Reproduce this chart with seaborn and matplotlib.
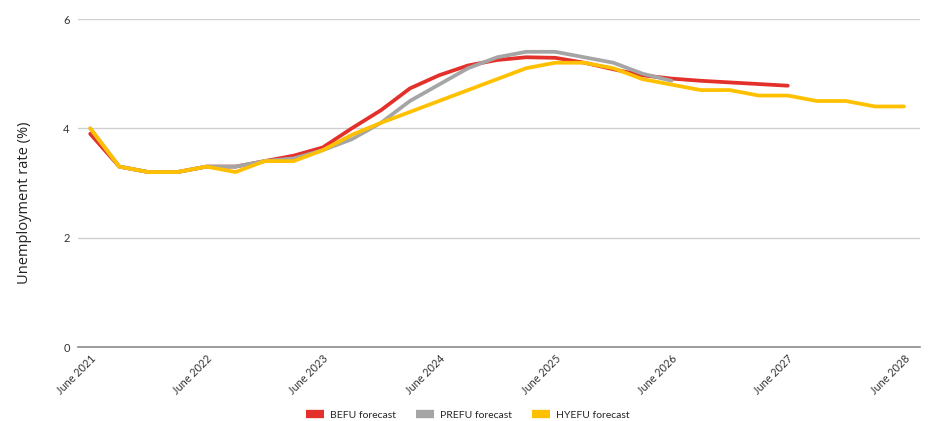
import matplotlib
matplotlib.use("Agg")
import matplotlib.pyplot as plt
import seaborn as sns
import pandas as pd
import numpy as np

# Quarterly periods from June 2021 to June 2028
quarters = pd.period_range("2021Q2", "2028Q2", freq="Q")
tick_labels = ["June 2021", "June 2022", "June 2023", "June 2024",
               "June 2025", "June 2026", "June 2027", "June 2028"]

befu = [3.9, 3.3, 3.2, 3.2, 3.3, 3.3, 3.4, 3.5, 3.65, 4.0, 4.33, 4.73,
        4.97, 5.15, 5.25, 5.3, 5.29, 5.2, 5.08, 4.97, 4.91, 4.87, 4.84,
        4.81, 4.78]
prefu = [4.0, 3.3, 3.2, 3.2, 3.3, 3.3, 3.4, 3.45, 3.6, 3.8, 4.1, 4.5,
         4.8, 5.1, 5.3, 5.4, 5.4, 5.3, 5.2, 5.0, 4.87]
hyefu = [4.0, 3.3, 3.2, 3.2, 3.3, 3.2, 3.4, 3.4, 3.6, 3.88, 4.1, 4.3,
         4.5, 4.7, 4.9, 5.1, 5.2, 5.2, 5.1, 4.9, 4.8, 4.7, 4.7, 4.6,
         4.6, 4.5, 4.5, 4.4, 4.4]

series_names = ["BEFU forecast", "PREFU forecast", "HYEFU forecast"]
series_values = [befu, prefu, hyefu]
colors = ["#E3302A", "#A5A5A5", "#FFC000"]

frames = []
for name, vals in zip(series_names, series_values):
    frames.append(pd.DataFrame({"q": np.arange(len(vals)),
                                "rate": vals,
                                "series": name}))
df = pd.concat(frames, ignore_index=True)

sns.set_theme(style="white")
plt.rcParams["font.family"] = ["Lato", "DejaVu Sans"]

fig = plt.figure(figsize=(9.3, 4.21), dpi=100)
ax = fig.add_axes([78 / 930, 1 - 347 / 421, (920 - 78) / 930, (347 - 19) / 421])

sns.lineplot(data=df, x="q", y="rate", hue="series", palette=colors,
             hue_order=series_names, linewidth=2.7, ax=ax, legend=False,
             sort=False)

ax.set_xlim(-0.42, 28.55)
ax.set_ylim(0, 6)
ax.set_yticks([0, 2, 4, 6])
ax.set_yticklabels(["0", "2", "4", "6"], fontsize=8, color="#333333")
ax.tick_params(axis="y", length=0, pad=6)

ax.set_xticks(np.arange(0, 29, 4))
ax.set_xticklabels(tick_labels, rotation=45, ha="right", rotation_mode="anchor",
                   fontsize=7.8, color="#333333")
ax.tick_params(axis="x", length=0, pad=4)

ax.yaxis.grid(True, color="#D0D0D0", linewidth=1)
ax.set_axisbelow(True)
for s in ["top", "right", "left"]:
    ax.spines[s].set_visible(False)
ax.spines["bottom"].set_color("#8C8C8C")
ax.spines["bottom"].set_linewidth(1.2)

ax.set_xlabel("")
ax.set_ylabel("Unemployment rate (%)", fontsize=10.5, color="#222222",
              family=["Open Sans", "DejaVu Sans"])
ax.yaxis.set_label_coords(-46 / 842, (347 - 203) / 328)

handles = [plt.Line2D([0], [0], color=c, linewidth=6, solid_capstyle="butt")
           for c in colors]
fig.legend(handles, series_names, loc="center", bbox_to_anchor=(468 / 930, 1 - 415 / 421),
           ncol=3, frameon=False, fontsize=7.5, handlelength=1.7,
           columnspacing=1.9, handletextpad=0.6)

fig.savefig("out.png", dpi=100)
